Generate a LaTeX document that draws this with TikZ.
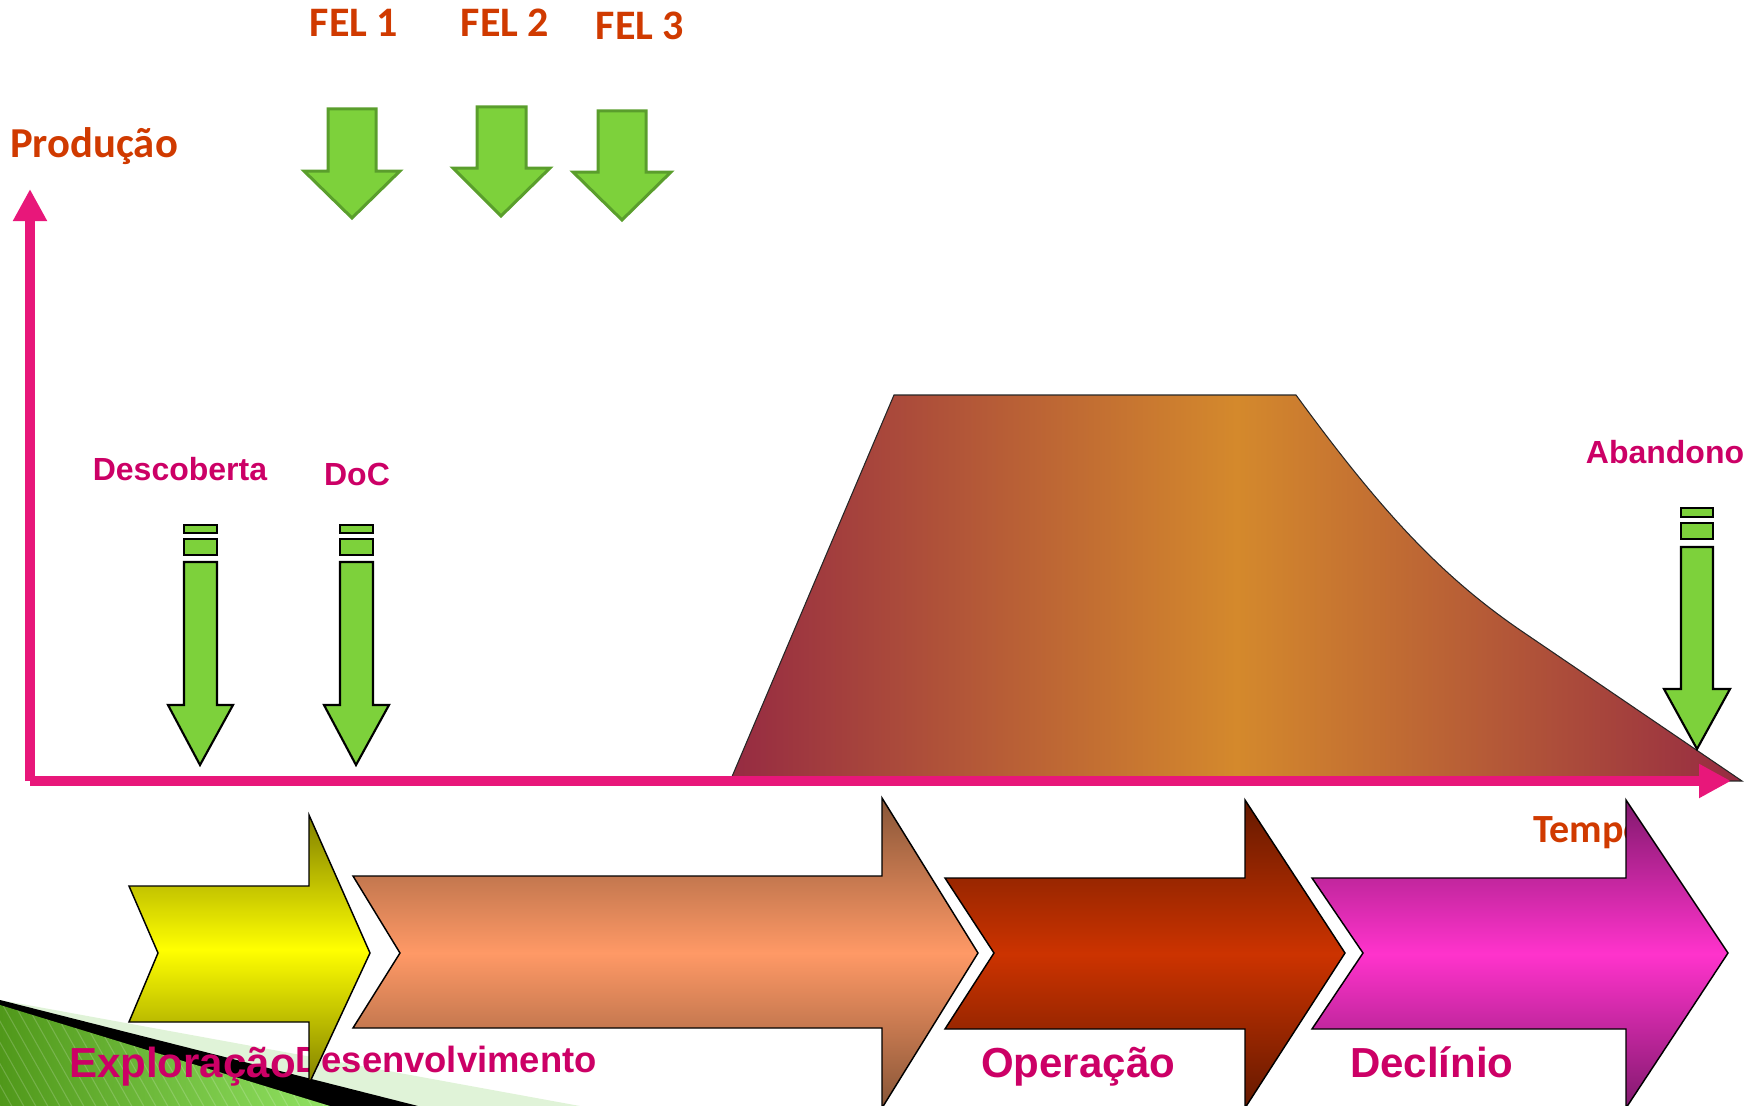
\documentclass[tikz,border=0pt]{standalone}
\usepackage{fontspec}
\setmainfont{Liberation Sans}
\newfontfamily\calibri{Carlito}
\usepackage{tikz}
\usetikzlibrary{arrows.meta}
\definecolor{eixo}{RGB}{232,23,122}
\definecolor{laranja}{RGB}{208,58,0}
\definecolor{rosa}{RGB}{204,0,102}
\definecolor{verde}{RGB}{125,209,59}
\definecolor{verdeesc}{RGB}{90,158,44}
\definecolor{cantoA}{RGB}{80,152,26}
\definecolor{cantoB}{RGB}{145,226,98}
\definecolor{cantoC}{RGB}{224,243,216}
\definecolor{prodA}{RGB}{150,43,66}
\definecolor{prodB}{RGB}{212,137,44}
\definecolor{amareloA}{RGB}{128,128,0}
\definecolor{amareloB}{RGB}{255,255,0}
\definecolor{salmaoA}{RGB}{135,85,55}
\definecolor{salmaoB}{RGB}{255,153,102}
\definecolor{vermelhoA}{RGB}{100,25,0}
\definecolor{vermelhoB}{RGB}{204,51,0}
\definecolor{lilasA}{RGB}{130,25,110}
\definecolor{lilasB}{RGB}{255,51,204}

\begin{document}
\begin{tikzpicture}[x=0.75pt,y=0.75pt,yscale=-1,xscale=1,
  feltxt/.style={font=\calibri\bfseries\fontsize{31.5}{36}\selectfont, text=laranja, inner sep=0pt, anchor=base},
  eixotxt/.style={font=\calibri\bfseries\fontsize{30}{34}\selectfont, text=laranja, inner sep=0pt, anchor=base west},
  marcotxt/.style={font=\bfseries\fontsize{24}{28}\selectfont, text=rosa, inner sep=0pt, anchor=base},
  fasetxt/.style={font=\bfseries\fontsize{31.5}{36}\selectfont, text=rosa, inner sep=0pt, anchor=base west},
  felseta/.style={fill=verde, draw=verdeesc, line width=2.25pt, line join=miter},
  marco/.style={fill=verde, draw=black, line width=1.6pt, line join=miter},
  fase/.style={draw=black, line width=1.1pt, line join=miter, top color=#1A, bottom color=#1A, middle color=#1B},
  eixoseta/.style={draw=eixo, line width=7.5pt, -{Triangle[length=24pt,width=24pt]}}]
\useasboundingbox (0,0) rectangle (1761,1106);

%Shape: canto verde
\fill [cantoC] (0,1000) -- (580,1106) -- (0,1106) -- cycle ;
\fill [black] (0,1000) -- (418,1106) -- (0,1106) -- cycle ;
\shade [left color=cantoA, right color=cantoB] (0,1005) -- (330,1106) -- (0,1106) -- cycle ;
\begin{scope}
\clip (0,1005) -- (330,1106) -- (0,1106) -- cycle ;
\foreach \i in {-120,-108,...,330}
  \draw [white, opacity=0.18, line width=0.8pt] (\i,1000) -- ++(62,110) ;
\end{scope}

%Shape: curva de producao
\shade [draw=black!85, line width=0.8pt, left color=prodA, right color=prodA, middle color=prodB] (731,779) -- (894,395) -- (1296,395) .. controls (1380,510) and (1440,575) .. (1520,630) -- (1742,781) -- cycle ;

%Straight Lines: eixos
\coordinate (origem) at (30,781) ;
\coordinate (ytopo) at (30,189) ;
\coordinate (xfim) at (1731,781) ;
\draw [eixoseta] (origem) -- (ytopo) ;
\draw [eixoseta] (origem) -- (xfim) ;

%Shape: setas FEL
\draw [felseta] (328,109) -- (376,109) -- (376,171) -- (400,171) -- (352,218) -- (304,171) -- (328,171) -- cycle ;
\draw [felseta] (477,107) -- (526,107) -- (526,168) -- (550,168) -- (501,216) -- (453,168) -- (477,168) -- cycle ;
\draw [felseta] (598,111) -- (646,111) -- (646,172) -- (671,172) -- (622,220) -- (573,172) -- (598,172) -- cycle ;

%Shape: seta Descoberta
\draw [marco] (184,525) rectangle (217,533) ;
\draw [marco] (184,539) rectangle (217,555) ;
\draw [marco] (184,562) -- (217,562) -- (217,705) -- (233,705) -- (200,765) -- (168,705) -- (184,705) -- cycle ;
%Shape: seta DoC
\draw [marco] (340,525) rectangle (373,533) ;
\draw [marco] (340,539) rectangle (373,555) ;
\draw [marco] (340,562) -- (373,562) -- (373,705) -- (389,705) -- (356,765) -- (324,705) -- (340,705) -- cycle ;
%Shape: seta Abandono
\draw [marco] (1681,508) rectangle (1713,517) ;
\draw [marco] (1681,523) rectangle (1713,539) ;
\draw [marco] (1681,547) -- (1713,547) -- (1713,689) -- (1730,689) -- (1697,749) -- (1664,689) -- (1681,689) -- cycle ;

% Text Node
\node [feltxt] (fel1) at (354,37) {FEL 1};
% Text Node
\node [feltxt] (fel2) at (505,37) {FEL 2};
% Text Node
\node [feltxt] (fel3) at (640,40) {FEL 3};
% Text Node
\node [eixotxt, font=\calibri\bfseries\fontsize{32}{36}\selectfont] (producao) at (10,157) {Produção};
% Text Node
\node [eixotxt] (tempo) at (1533,842) {Tempo};
% Text Node
\node [marcotxt] (descoberta) at (180,480) {Descoberta};
% Text Node
\node [marcotxt] (doc) at (357,485) {DoC};
% Text Node
\node [marcotxt] (abandono) at (1665,463) {Abandono};
% Text Node
\node [fasetxt, font=\bfseries\fontsize{27.3}{32}\selectfont] (desenvolvimento) at (295,1072) {Desenvolvimento};

%Shape: fases
\shade [fase=amarelo] (129,886) -- (309,886) -- (309,815) -- (370,953) -- (309,1084) -- (309,1022) -- (129,1022) -- (158,953) -- cycle ;
\shade [fase=salmao] (353,876) -- (882,876) -- (882,798) -- (978,953) -- (882,1108) -- (882,1028) -- (353,1028) -- (400,953) -- cycle ;
\shade [fase=vermelho] (945,878) -- (1245,878) -- (1245,800) -- (1345,953) -- (1245,1108) -- (1245,1029) -- (945,1029) -- (994,953) -- cycle ;
\shade [fase=lilas] (1312,878) -- (1626,878) -- (1626,800) -- (1728,953) -- (1626,1108) -- (1626,1029) -- (1312,1029) -- (1363,953) -- cycle ;

% Text Node
\node [fasetxt] (exploracao) at (69,1077) {Exploração};
% Text Node
\node [fasetxt] (operacao) at (981,1077) {Operação};
% Text Node
\node [fasetxt] (declinio) at (1350,1077) {Declínio};

\end{tikzpicture}
\end{document}
